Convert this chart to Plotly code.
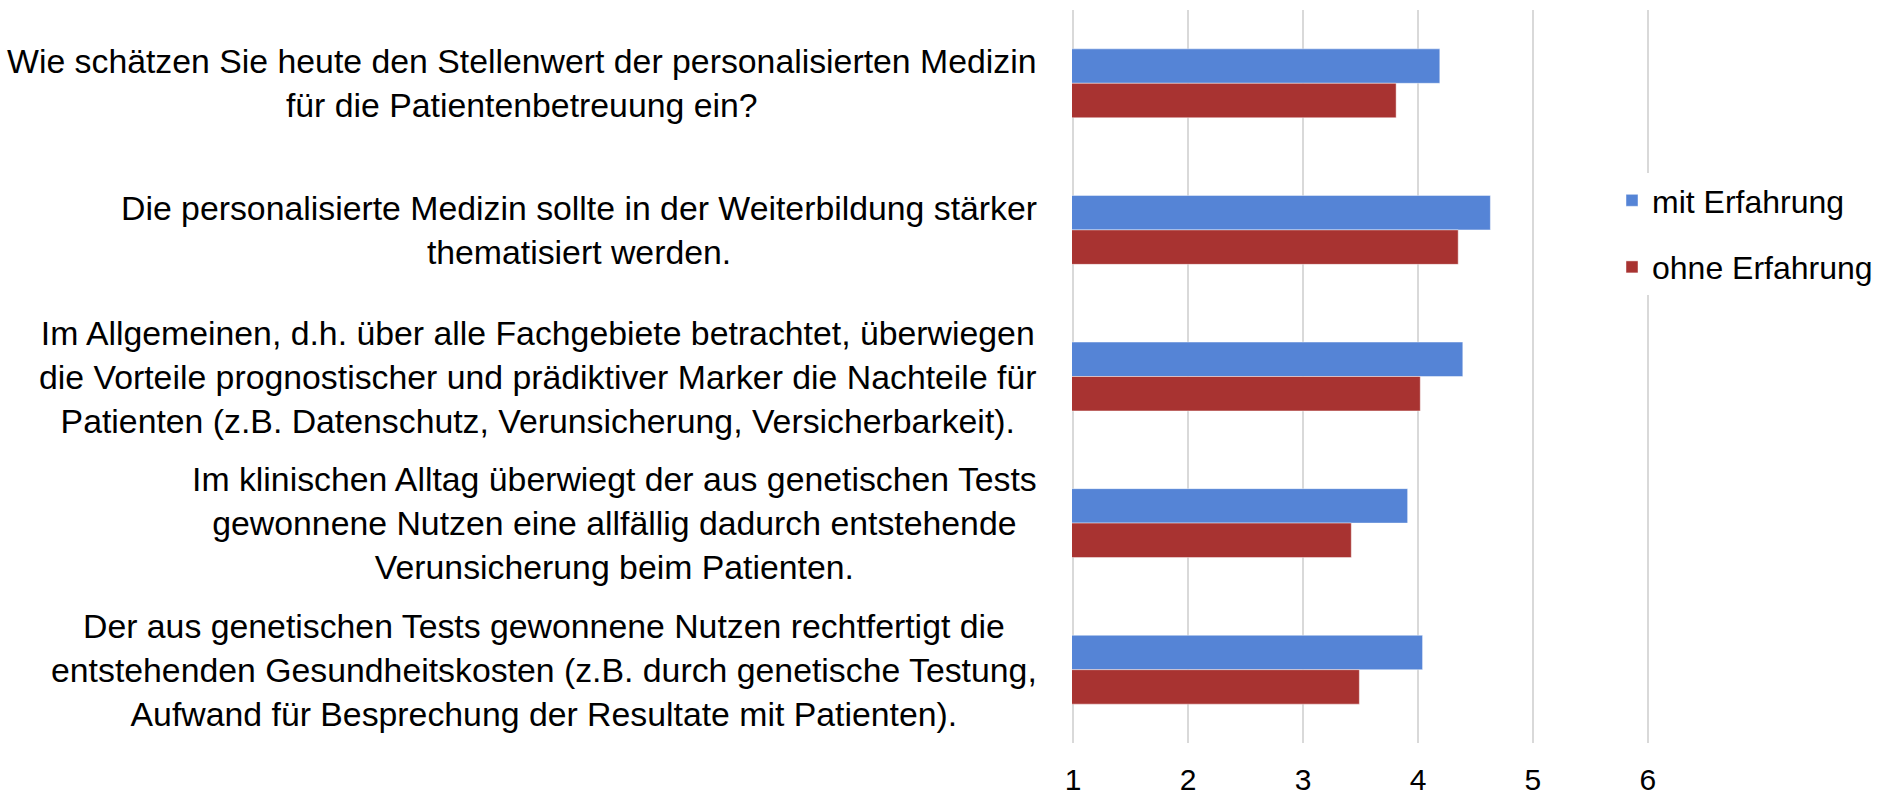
import plotly.graph_objects as go

categories = [
    "Wie schätzen Sie heute den Stellenwert der personalisierten Medizin<br>für die Patientenbetreuung ein?",
    "Die personalisierte Medizin sollte in der Weiterbildung stärker<br>thematisiert werden.",
    "Im Allgemeinen, d.h. über alle Fachgebiete betrachtet, überwiegen<br>die Vorteile prognostischer und prädiktiver Marker die Nachteile für<br>Patienten (z.B. Datenschutz, Verunsicherung, Versicherbarkeit).",
    "Im klinischen Alltag überwiegt der aus genetischen Tests<br>gewonnene Nutzen eine allfällig dadurch entstehende<br>Verunsicherung beim Patienten.",
    "Der aus genetischen Tests gewonnene Nutzen rechtfertigt die<br>entstehenden Gesundheitskosten (z.B. durch genetische Testung,<br>Aufwand für Besprechung der Resultate mit Patienten).",
]
keys = ["Q1", "Q2", "Q3", "Q4", "Q5"]
mit_erfahrung = [4.19, 4.63, 4.39, 3.91, 4.04]
ohne_erfahrung = [3.81, 4.35, 4.02, 3.42, 3.49]
series_names = ["mit Erfahrung", "ohne Erfahrung"]
tick_values = [1, 2, 3, 4, 5, 6]

BLUE = "#5584D6"
RED = "#A83331"
FONT = "Liberation Sans, Arial, sans-serif"

fig = go.Figure()
fig.add_trace(go.Bar(
    y=keys, x=mit_erfahrung, orientation="h", name=series_names[0],
    marker=dict(color=BLUE, line=dict(color="rgba(255,255,255,0.45)", width=1)),
    legendgroup="a",
))
fig.add_trace(go.Bar(
    y=keys, x=ohne_erfahrung, orientation="h", name=series_names[1],
    marker=dict(color=RED, line=dict(color="rgba(255,255,255,0.45)", width=1)),
    legendgroup="b",
))

for k, label in zip(keys, categories):
    fig.add_annotation(
        x=0, xref="paper", y=k, yref="y", text=label, showarrow=False,
        xanchor="right", yanchor="middle", align="center", xshift=-33,
        font=dict(family=FONT, size=33.8, color="black"),
    )

fig.update_layout(
    width=1886, height=795,
    margin=dict(l=1072, r=237, t=10, b=52, autoexpand=False),
    paper_bgcolor="white", plot_bgcolor="white",
    barmode="group", bargap=0.53, bargroupgap=0,
    font=dict(family=FONT, size=30, color="black"),
    showlegend=True,
    legend=dict(
        xref="container", yref="container",
        x=1612 / 1886, xanchor="left", y=1 - 173 / 795, yanchor="top",
        bgcolor="white", font=dict(family=FONT, size=32, color="black"),
        traceorder="grouped", tracegroupgap=22,
    ),
    xaxis=dict(
        range=[0.99, 6.01], tickvals=tick_values, showgrid=True, gridcolor="#D9D9D9",
        gridwidth=2, zeroline=False, showline=False, ticks="",
        ticklabelstandoff=16,
        tickfont=dict(family=FONT, size=30, color="black"),
    ),
    yaxis=dict(
        categoryorder="array", categoryarray=keys, autorange="reversed",
        showticklabels=False, showgrid=False, zeroline=False, showline=False, ticks="",
    ),
)

fig.write_html(
    "out.html",
    config={"displayModeBar": False},
    post_script="document.body.style.margin='0';document.body.style.overflow='hidden';",
)
